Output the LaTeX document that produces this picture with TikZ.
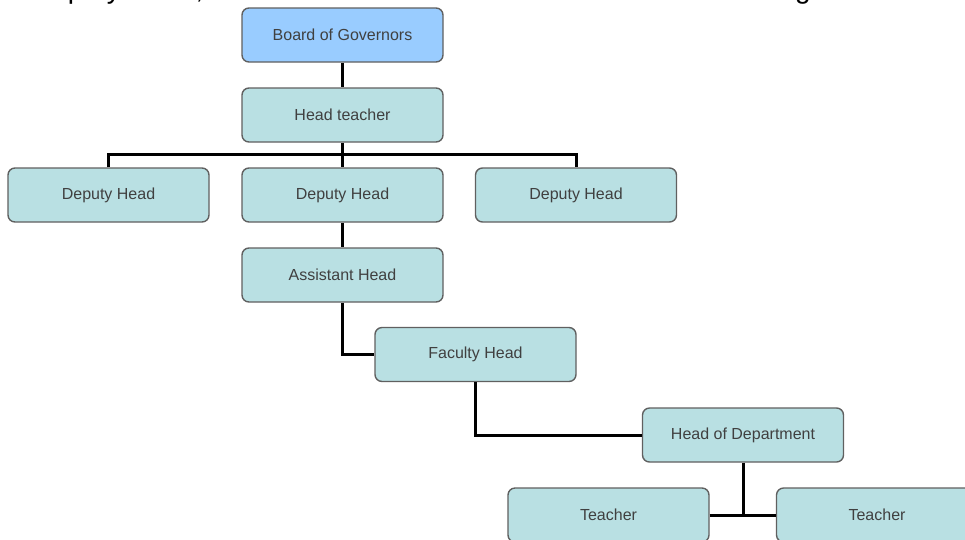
\documentclass[tikz,border=0pt]{standalone}
\usepackage{fontspec}
\setmainfont{Liberation Sans}
\definecolor{boxfill}{RGB}{185,224,227}
\definecolor{topfill}{RGB}{153,204,255}
\definecolor{boxline}{RGB}{96,96,96}
\definecolor{boxtext}{RGB}{64,64,64}
\begin{document}
\begin{tikzpicture}[x=1pt,y=-1pt,
  orgbox/.style={draw=boxline, line width=1.4pt, fill=boxfill, rounded corners=7pt,
    minimum width=201pt, minimum height=54pt, inner sep=0pt, text=boxtext,
    font=\fontsize{16}{19}\selectfont},
  topbox/.style={orgbox, fill=topfill},
  link/.style={line width=3pt, black}]
\useasboundingbox (0,0) rectangle (965,539);
\clip (0,0) rectangle (965,539);

% line of running text above the chart, mostly cut off at the top edge
\node[anchor=base west, inner sep=0pt, font=\fontsize{28}{30}\selectfont] (txtA) at (32,-2) {Deputy Head,};
\node[anchor=base west, inner sep=0pt, font=\fontsize{28}{30}\selectfont] (txtB) at (795,-2) {g};

% connector end points
\coordinate (busR) at (576,154);
\coordinate (teachbus) at (743,515);

% boxes
\node[topbox] (gov) at (342.5,35) {Board of Governors};
\node[orgbox] (head) at (342.5,115) {Head teacher};
\node[orgbox] (dl) at (108.5,195) {Deputy Head};
\node[orgbox] (dm) at (342.5,195) {Deputy Head};
\node[orgbox] (dr) at (576,195) {Deputy Head};
\node[orgbox] (ah) at (342.5,275) {Assistant Head};
\node[orgbox] (fh) at (475.5,354.5) {Faculty Head};
\node[orgbox] (hod) at (743,435) {Head of Department};
\node[orgbox] (t1) at (608.5,515) {Teacher};
\node[orgbox] (t2) at (877,515) {Teacher};

% connectors
\draw[link] (gov.south) -- (head.north);
\draw[link] (head.south) -- (dm.north);
\draw[link] (dl.north) |- (busR) -| (dr.north);
\draw[link] (dm.south) -- (ah.north);
\draw[link] (ah.south) |- (fh.west);
\draw[link] (fh.south) |- (hod.west);
\draw[link] (hod.south) -- (teachbus);
\draw[link] (t1.east) -- (t2.west);
\end{tikzpicture}
\end{document}
